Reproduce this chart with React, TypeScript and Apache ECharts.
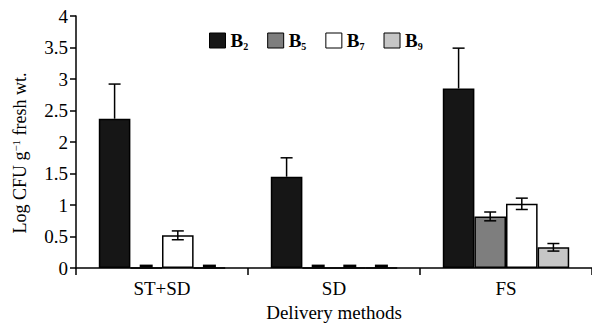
import React, { useEffect, useRef } from "react";
import * as echarts from "echarts";

const categories = ["ST+SD", "SD", "FS"];
const seriesNames = ["B2", "B5", "B7", "B9"];
const b2Values = [2.37, 1.45, 2.85];
const b5Values = [0, 0, 0.82];
const b7Values = [0.52, 0, 1.02];
const b9Values = [0, 0, 0.33];
const b2Errors = [0.55, 0.3, 0.64];
const b5Errors = [0, 0, 0.07];
const b7Errors = [0.07, 0, 0.09];
const b9Errors = [0, 0, 0.06];
const yTicks = { min: 0, max: 4, interval: 0.5 };

const FONT = "'Liberation Serif', 'Times New Roman', serif";
const colors = ["#161616", "#7e7e7e", "#ffffff", "#c6c6c6"];
const CAT_GAP = 0.265;

export default function App() {
  const ref = useRef<HTMLDivElement>(null);
  useEffect(() => {
    if (!ref.current) return;
    const chart = echarts.init(ref.current, undefined, { renderer: "svg" });
    const values = [b2Values, b5Values, b7Values, b9Values];
    const errors = [b2Errors, b5Errors, b7Errors, b9Errors];

    const barSeries = seriesNames.map((name, i) => ({
      name,
      type: "bar",
      data: values[i],
      barGap: "0%",
      barCategoryGap: `${CAT_GAP * 100}%`,
      itemStyle: { color: colors[i], borderColor: "#000", borderWidth: 1.5 },
    }));

    const errData: number[][] = [];
    values.forEach((vals, si) => {
      vals.forEach((v, ci) => {
        errData.push([ci, v, errors[si][ci], si]);
      });
    });

    const errSeries = {
      type: "custom",
      z: 10,
      data: errData,
      encode: { x: 0, y: 1 },
      renderItem: (params: any, api: any) => {
        const cat = api.value(0);
        const v = api.value(1);
        const e = api.value(2);
        const si = api.value(3);
        const base = api.coord([cat, v]);
        const catW = api.size([1, 0])[0];
        const barW = (catW * (1 - CAT_GAP)) / 4;
        const x = base[0] + (si - 1.5) * barW;
        if (v === 0) {
          return {
            type: "rect",
            shape: { x: x - 6.5, y: base[1] - 3.5, width: 13, height: 3 },
            style: { fill: "#000" },
          };
        }
        const top = api.coord([cat, v + e])[1];
        const bot = si === 0 ? base[1] : api.coord([cat, v - e])[1];
        const cap = 6;
        const ls = { stroke: "#000", lineWidth: 1.5 };
        const children: any[] = [
          { type: "line", shape: { x1: x, y1: top, x2: x, y2: bot }, style: ls },
          { type: "line", shape: { x1: x - cap, y1: top, x2: x + cap, y2: top }, style: ls },
        ];
        if (si !== 0) {
          children.push({ type: "line", shape: { x1: x - cap, y1: bot, x2: x + cap, y2: bot }, style: ls });
        }
        return { type: "group", children };
      },
    };

    chart.setOption({
      animation: false,
      textStyle: { fontFamily: FONT },
      grid: { left: 76, top: 16, width: 518, height: 254, containLabel: false },
      legend: {
        left: 209,
        top: 31,
        padding: 0,
        itemWidth: 16,
        itemHeight: 15,
        itemGap: 19,
        icon: "rect",
        data: seriesNames,
        itemStyle: { borderColor: "#000", borderWidth: 1 },
        formatter: (name: string) => `{b|B}{s|${name.slice(1)}}`,
        textStyle: {
          fontFamily: FONT,
          color: "#000",
          rich: {
            b: { fontFamily: FONT, fontSize: 19, fontWeight: "bold", color: "#000", height: 20 },
            s: {
              fontFamily: FONT,
              fontSize: 10,
              fontWeight: "bold",
              color: "#000",
              verticalAlign: "bottom",
              padding: [12, 0, 0, 0],
            },
          },
        },
      },
      xAxis: {
        type: "category",
        data: categories,
        axisLine: { lineStyle: { color: "#000", width: 1.5 } },
        axisTick: { show: true, length: 7, lineStyle: { color: "#000", width: 1.5 } },
        axisLabel: { color: "#000", fontFamily: FONT, fontSize: 19, margin: 11 },
        name: "Delivery methods",
        nameLocation: "middle",
        nameGap: 34,
        nameTextStyle: { color: "#000", fontFamily: FONT, fontSize: 19 },
      },
      yAxis: {
        type: "value",
        min: yTicks.min,
        max: yTicks.max,
        interval: yTicks.interval,
        splitLine: { show: false },
        axisLine: { show: true, lineStyle: { color: "#000", width: 1.5 } },
        axisTick: { show: true, length: 6, lineStyle: { color: "#000", width: 1.5 } },
        axisLabel: { color: "#000", fontFamily: FONT, fontSize: 19, margin: 8 },
      },
      graphic: [
        {
          type: "text",
          x: 20,
          y: 153,
          rotation: Math.PI / 2,
          style: {
            text: "Log CFU g{sup|−1} fresh wt.",
            fontFamily: FONT,
            fontSize: 18,
            fill: "#000",
            align: "center",
            verticalAlign: "middle",
            rich: {
              sup: { fontFamily: FONT, fontSize: 11, fill: "#000", padding: [0, 0, 9, 0] },
            },
          },
        },
      ],
      series: [...barSeries, errSeries],
    });
    return () => chart.dispose();
  }, []);
  return (
    <div
      ref={ref}
      style={{ position: "absolute", left: 0, top: 0, width: 592, height: 327, background: "#fff" }}
    />
  );
}
